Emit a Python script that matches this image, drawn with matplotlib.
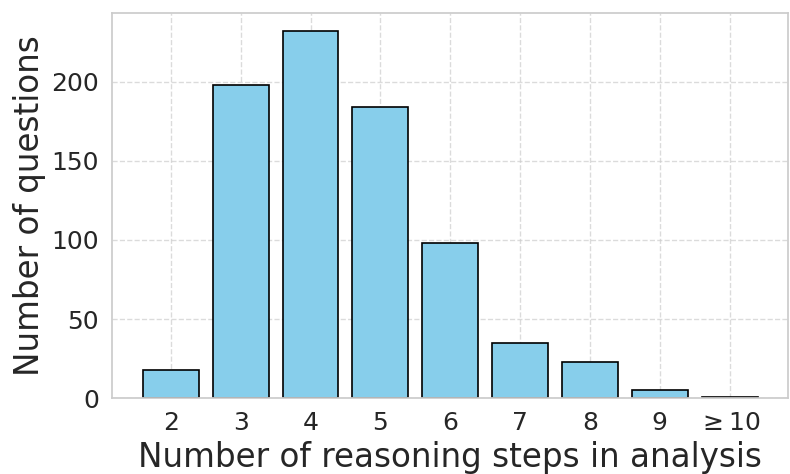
import matplotlib
matplotlib.use('Agg')
import matplotlib.pyplot as plt
import seaborn as sns

# ── Data ──
step_labels = ['2', '3', '4', '5', '6', '7', '8', '9', r'$\geq 10$']
step_pos = [2, 3, 4, 5, 6, 7, 8, 9, 10]
question_counts = [18, 198, 232, 184, 98, 35, 23, 5, 1]

sns.set_theme(style='whitegrid')
plt.rcParams['font.family'] = ['DejaVu Sans']

fig, ax = plt.subplots(figsize=(7.9, 4.74), dpi=100)

ax.bar(step_pos, question_counts, color='skyblue', edgecolor='black', linewidth=1.2, width=0.8)

ax.set_xticks(step_pos)
ax.set_xticklabels(step_labels)
ax.set_xlim(1.16, 10.83)
ax.tick_params(axis='both', labelsize=18)
ax.set_xlabel('Number of reasoning steps in analysis', fontsize=23.5)
ax.set_ylabel('Number of questions', fontsize=23.5)
ax.grid(True, linestyle='--', alpha=0.7)

fig.subplots_adjust(left=0.142, right=0.997, top=0.973, bottom=0.160)
plt.savefig('out.png', dpi=100)
